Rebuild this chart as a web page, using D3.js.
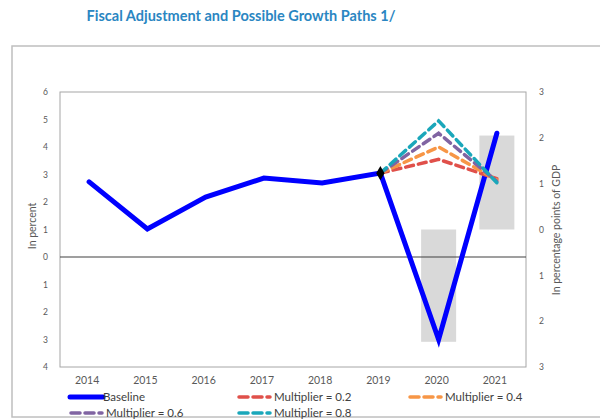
<!DOCTYPE html>
<html><head><meta charset="utf-8">
<script src="https://cdn.jsdelivr.net/npm/d3@7"></script>
<style>body{margin:0;background:#fff;} svg{display:block;}</style>
</head><body>
<svg id="c" width="600" height="419"></svg>
<script>
const years = ["2014","2015","2016","2017","2018","2019","2020","2021"];
const baseline = [2.73, 1.02, 2.18, 2.87, 2.69, 3.05, -3.0, 4.5];
const fiscalBars = [0, 0, 0, 0, 0, 0, -2.45, 2.05];
const multYears = ["2019","2020","2021"];
const mult02 = [3.05, 3.55, 2.85];
const mult04 = [3.05, 4.0, 2.8];
const mult06 = [3.05, 4.5, 2.75];
const mult08 = [3.05, 4.95, 2.7];
const leftTicks = [6,5,4,3,2,1,0,-1,-2,-3,-4];
const rightTicks = [3,2,1,0,-1,-2,-3];

const svg = d3.select("#c");
const font = "Lato, 'Open Sans', sans-serif";
const L = 60, R = 526, T = 92, B = 367;

svg.append("rect").attr("x",12).attr("y",46).attr("width",600).attr("height",371)
  .attr("fill","none").attr("stroke","#bfbfbf").attr("stroke-width",1.5);

svg.append("text").attr("x",241).attr("y",21).attr("text-anchor","middle")
  .attr("font-family",font).attr("font-weight","bold").attr("font-size",14.5)
  .attr("fill","#2a86c2").text("Fiscal Adjustment and Possible Growth Paths 1/");

const x = d3.scaleBand().domain(years).range([L,R]);
const yL = d3.scaleLinear().domain([-4,6]).range([B,T]);
const yR = d3.scaleLinear().domain([-3,3]).range([B,T]);
const cx = d => x(d) + x.bandwidth()/2;

svg.append("g").selectAll("rect").data(years.map((y,i)=>({y,v:fiscalBars[i]})).filter(d=>d.v!==0))
  .join("rect")
  .attr("x",d=>cx(d.y)-17.5).attr("width",35)
  .attr("y",d=>Math.min(yR(d.v),yR(0))).attr("height",d=>Math.abs(yR(d.v)-yR(0)))
  .attr("fill","#d9d9d9");

svg.append("rect").attr("x",L).attr("y",T).attr("width",R-L).attr("height",B-T)
  .attr("fill","none").attr("stroke","#a6a6a6").attr("stroke-width",1);

svg.append("line").attr("x1",L).attr("x2",R).attr("y1",yL(0)).attr("y2",yL(0))
  .attr("stroke","#404040").attr("stroke-width",1.2);

const axL = svg.append("g").attr("transform",`translate(${L-9},0)`)
  .call(d3.axisLeft(yL).tickValues(leftTicks).tickSize(0).tickFormat(d=>Math.abs(d)));
const axR = svg.append("g").attr("transform",`translate(${R+10},0)`)
  .call(d3.axisRight(yR).tickValues(rightTicks).tickSize(0).tickFormat(d=>Math.abs(d)));
const axB = svg.append("g").attr("transform",`translate(0,${B+7})`)
  .call(d3.axisBottom(x).tickSize(0));
[axL,axR,axB].forEach(a=>{a.select(".domain").remove();
  a.selectAll("text").attr("font-family",font).attr("fill","#595959");});
axL.selectAll("text").attr("font-size",8.5);
axR.selectAll("text").attr("font-size",8.5);
axB.selectAll("text").attr("font-size",10.5).attr("dx",-2);

svg.append("text").attr("transform",`translate(36,226) rotate(-90)`).attr("text-anchor","middle")
  .attr("font-family",font).attr("font-size",10.5).attr("fill","#595959").text("In percent");
svg.append("text").attr("transform",`translate(560,230) rotate(-90)`).attr("text-anchor","middle")
  .attr("font-family",font).attr("font-size",10.5).attr("fill","#595959").text("In percentage points of GDP");

const line = d3.line().x(d=>cx(d[0])).y(d=>yL(d[1]));

svg.append("path").datum(years.map((y,i)=>[y,baseline[i]]))
  .attr("d",line).attr("fill","none").attr("stroke","#0000ff").attr("stroke-width",5)
  .attr("stroke-linejoin","miter").attr("stroke-linecap","round");

const multSeries = [
  {name:"Multiplier = 0.2", vals:mult02, color:"#e0504a"},
  {name:"Multiplier = 0.4", vals:mult04, color:"#f79646"},
  {name:"Multiplier = 0.6", vals:mult06, color:"#8064a2"},
  {name:"Multiplier = 0.8", vals:mult08, color:"#1aa7ba"}
];
multSeries.forEach(s=>{
  svg.append("path").datum(multYears.map((y,i)=>[y,s.vals[i]]))
    .attr("d",line).attr("fill","none").attr("stroke",s.color).attr("stroke-width",3.5)
    .attr("stroke-dasharray","8,5").attr("stroke-linecap","round");
});

svg.append("path").attr("d",d3.symbol(d3.symbolDiamond,60)())
  .attr("transform",`translate(${cx("2019")},${yL(baseline[5])})`).attr("fill","#000");

const legend = [
  {name:"Baseline", color:"#0000ff", dash:null, x:70, y:397},
  {name:"Multiplier = 0.2", color:multSeries[0].color, dash:"9,5", x:239, y:397},
  {name:"Multiplier = 0.4", color:multSeries[1].color, dash:"9,5", x:410, y:397},
  {name:"Multiplier = 0.6", color:multSeries[2].color, dash:"9,5", x:71, y:413},
  {name:"Multiplier = 0.8", color:multSeries[3].color, dash:"9,5", x:239, y:413}
];
const lg = svg.append("g").selectAll("g").data(legend).join("g")
  .attr("transform",d=>`translate(${d.x},${d.y})`);
lg.append("line").attr("x1",0).attr("x2",d=>d.dash?31:33).attr("y1",0).attr("y2",0)
  .attr("stroke",d=>d.color).attr("stroke-width",d=>d.dash?3.5:5)
  .attr("stroke-dasharray",d=>d.dash).attr("stroke-linecap","round");
lg.append("text").attr("x",d=>d.dash?35:33).attr("y",4).attr("font-family",font)
  .attr("font-size",11.5).attr("fill","#404040").text(d=>d.name);
</script>
</body></html>
